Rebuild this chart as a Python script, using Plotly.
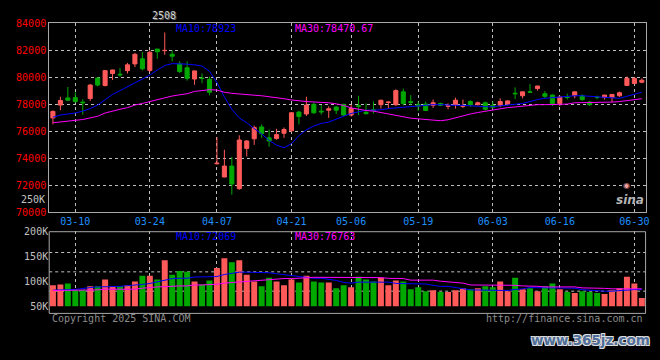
import plotly.graph_objects as go

W, H = 660, 360

dates = [
    "03-05", "03-06", "03-07", "03-10", "03-11", "03-12", "03-13", "03-14", "03-17", "03-18",
    "03-19", "03-20", "03-21", "03-24", "03-25", "03-26", "03-27", "03-28", "03-31", "04-01",
    "04-02", "04-03", "04-07", "04-08", "04-09", "04-10", "04-11", "04-14", "04-15", "04-16",
    "04-17", "04-18", "04-21", "04-22", "04-23", "04-24", "04-25", "04-28", "04-29", "04-30",
    "05-06", "05-07", "05-08", "05-09", "05-12", "05-13", "05-14", "05-15", "05-16", "05-19",
    "05-20", "05-21", "05-22", "05-23", "05-26", "05-27", "05-28", "05-29", "05-30", "06-03",
    "06-04", "06-05", "06-06", "06-09", "06-10", "06-11", "06-12", "06-13", "06-16", "06-17",
    "06-18", "06-19", "06-20", "06-23", "06-24", "06-25", "06-26", "06-27", "06-30", "07-01",
]

open_ = [
    77000, 77950, 78480, 78500, 78170, 78430, 79950, 79400, 80290, 80240,
    80500, 81000, 81380, 80520, 82100, 81980, 81710, 81000, 80710, 79880,
    79950, 79860, 73600, 72620, 73430, 71760, 74740, 75450, 76330, 75520,
    75480, 75860, 76050, 77430, 77290, 78000, 77500, 77570, 77810, 78000,
    77210, 77900, 77410, 77600, 77980, 78140, 77980, 78930, 78200, 77980,
    78020, 77930, 78070, 77860, 77980, 77860, 78210, 77980, 78120, 77930,
    77930, 78020, 78830, 78640, 78930, 79170, 78790, 78690, 78070, 78550,
    78640, 78640, 78170, 78550, 78500, 78500, 78640, 79400, 79550, 79640,
]
high = [
    77550, 78570, 79290, 78900, 78380, 79500, 80000, 80550, 80570, 80710,
    81070, 81810, 81880, 82000, 82100, 83330, 82000, 81190, 81190, 80500,
    80290, 80050, 75570, 74640, 74100, 75710, 75360, 76430, 76520, 76140,
    76190, 76290, 77430, 77520, 78570, 78140, 77950, 77860, 77860, 78050,
    77980, 78640, 78070, 78210, 78330, 78210, 79120, 79170, 78690, 78210,
    78210, 78360, 78120, 78070, 78500, 78360, 78310, 78210, 78210, 78210,
    78450, 78290, 79260, 78950, 79500, 79380, 78980, 78740, 78640, 78790,
    78950, 78740, 78260, 78640, 78710, 78760, 78950, 80070, 80020, 79930,
]
low = [
    76520, 77570, 78250, 78140, 77240, 78260, 79330, 79330, 79810, 80050,
    80290, 80760, 80520, 80400, 81380, 81670, 81190, 80330, 79760, 79450,
    79570, 78670, 73550, 72600, 71310, 71670, 74140, 75000, 75520, 74860,
    75380, 75520, 75950, 76520, 77140, 77290, 77240, 77000, 77290, 77150,
    77100, 77210, 77260, 77330, 77690, 77690, 77880, 77930, 77930, 77520,
    77500, 77740, 77880, 77640, 77690, 77740, 77830, 77930, 77550, 77690,
    77790, 77930, 78400, 78450, 78880, 79020, 78430, 77880, 77880, 78360,
    78450, 78260, 77880, 78380, 78360, 78170, 78550, 79360, 79500, 79570,
]
close = [
    77480, 78290, 78310, 78210, 78120, 79430, 79430, 80500, 80550, 80190,
    80930, 81710, 80640, 81860, 81900, 82000, 81570, 80430, 79930, 80480,
    79920, 78900, 73640, 73430, 72100, 75360, 75290, 76290, 75830, 75290,
    75760, 76140, 77380, 77100, 77950, 77380, 77450, 77670, 77570, 77210,
    77690, 77860, 77310, 77570, 78310, 78170, 79020, 78070, 78150, 77880,
    77550, 78120, 77930, 77880, 78310, 77880, 77980, 78120, 77640, 77790,
    78210, 78260, 78790, 78930, 78900, 79360, 78600, 78070, 78550, 78520,
    78930, 78360, 77980, 78520, 78690, 78740, 78860, 79930, 79930, 79790,
]
ma10 = [
    77050, 77210, 77290, 77360, 77500, 77690, 77950, 78360, 78740, 79020,
    79310, 79600, 79830, 80170, 80550, 80880, 81020, 81020, 80980, 80930,
    80840, 80450, 79620, 78550, 77640, 77000, 76640, 76210, 75810, 75330,
    74980, 74790, 75090, 75690, 76120, 76400, 76590, 76690, 76880, 77120,
    77330, 77450, 77570, 77570, 77600, 77690, 77740, 77830, 77880, 77930,
    77930, 77980, 77980, 77930, 77930, 77930, 77880, 77880, 77830, 77830,
    77880, 77980, 78020, 78070, 78210, 78360, 78450, 78500, 78550, 78640,
    78640, 78640, 78600, 78550, 78500, 78450, 78450, 78600, 78740, 78900,
]
ma30 = [
    76640, 76690, 76740, 76790, 76880, 77000, 77120, 77360, 77520, 77640,
    77760, 77950, 78070, 78210, 78360, 78500, 78620, 78710, 78790, 78960,
    79040, 79090, 79060, 78900, 78820, 78760, 78720, 78680, 78640, 78580,
    78500, 78420, 78330, 78260, 78210, 78180, 78160, 78120, 78040, 77920,
    77740, 77640, 77550, 77500, 77400, 77260, 77170, 77070, 76980, 76930,
    76880, 76830, 76790, 76860, 77020, 77170, 77290, 77400, 77500, 77570,
    77690, 77760, 77810, 77880, 77930, 77980, 77980, 78000, 78020, 78020,
    78120, 78120, 78170, 78170, 78170, 78170, 78210, 78280, 78360, 78420,
]
volume = [
    91900, 93800, 95800, 82900, 82900, 90000, 90000, 103500, 90000, 90000,
    91900, 99600, 111200, 111200, 103500, 142100, 113100, 120800, 118900, 99600,
    93800, 101500, 126600, 145900, 138200, 142100, 113100, 99600, 90000, 107300,
    99600, 91900, 103500, 97700, 111200, 99600, 97700, 97700, 86100, 91900,
    88000, 109300, 103500, 99600, 107300, 91900, 101500, 99600, 84200, 88000,
    80300, 82200, 78400, 78400, 82200, 86100, 84200, 86100, 90000, 88000,
    99600, 80300, 107300, 84200, 86100, 80300, 90000, 95800, 84200, 78400,
    76400, 80300, 78400, 76400, 74500, 82200, 86100, 109300, 95800, 66800,
]
vol_ma10 = [
    82200, 82200, 83300, 83800, 86200, 87500, 88800, 88800, 89400, 89900,
    91300, 91900, 93900, 95600, 99000, 102900, 105400, 106100, 106100, 108600,
    108600, 108600, 109500, 113600, 116700, 118300, 118300, 118300, 117700, 117100,
    115100, 113100, 111000, 108600, 106900, 106100, 106100, 104700, 101800, 97700,
    96400, 98300, 98300, 98300, 98300, 98300, 95800, 95800, 95800, 95800,
    94600, 92000, 89900, 89900, 86900, 85300, 82900, 82900, 82200, 81600,
    81600, 81600, 83800, 84800, 87500, 87500, 87500, 86900, 86200, 86200,
    86200, 83300, 82200, 80300, 80300, 80300, 81600, 81600, 83500, 83500,
]
vol_ma30 = [
    81600, 81600, 81600, 82900, 82900, 82900, 82900, 84200, 84200, 84200,
    84200, 84200, 86200, 87900, 88800, 89400, 90800, 90800, 90800, 92700,
    92700, 92700, 94100, 96400, 97700, 99000, 99000, 100200, 102300, 103300,
    105500, 105500, 105500, 105500, 106900, 108000, 108000, 108000, 108000, 108000,
    107400, 107400, 107400, 107400, 107400, 105900, 105500, 105500, 102300, 102300,
    102300, 102300, 100200, 99000, 99000, 96400, 92700, 92700, 92700, 92700,
    92700, 92700, 92000, 90800, 90800, 90000, 88800, 88800, 88800, 88800,
    88800, 86900, 86900, 86900, 85900, 85000, 85000, 85000, 85000, 85000,
]
price_ticks = [70000, 72000, 74000, 76000, 78000, 80000, 82000, 84000]
vol_ticks = [50000, 100000, 150000, 200000]
vol_tick_text = ["50K", "100K", "150K", "200K"]
date_ticks = ["03-10", "03-24", "04-07", "04-21", "05-06", "05-19", "06-03", "06-16", "06-30"]

RED = "#FF5A5A"
GREEN = "#00A800"
GRID = "#BEBEBE"
FRAME = "#A8A8A8"
FONT = "DejaVu Sans Mono"


def py(p):
    return (H - p) / H


def px(p):
    return p / W


X0, X1 = 49.5, 649.5

fig = go.Figure()
fig.add_trace(go.Candlestick(
    x=dates, open=open_, high=high, low=low, close=close,
    increasing=dict(line=dict(color=RED, width=1), fillcolor=RED),
    decreasing=dict(line=dict(color=GREEN, width=1), fillcolor=GREEN),
    whiskerwidth=0, xaxis="x", yaxis="y", hoverinfo="skip",
))
fig.add_trace(go.Scatter(x=dates, y=ma10, mode="lines", line=dict(color="#0000FF", width=1),
                         xaxis="x", yaxis="y", hoverinfo="skip"))
fig.add_trace(go.Scatter(x=dates, y=ma30, mode="lines", line=dict(color="#FF00FF", width=1),
                         xaxis="x", yaxis="y", hoverinfo="skip"))

bar_colors = [RED if c >= o else GREEN for o, c in zip(open_, close)]
fig.add_trace(go.Bar(x=dates, y=volume, marker=dict(color=bar_colors, line=dict(width=0)),
                     width=0.8, xaxis="x2", yaxis="y2", hoverinfo="skip"))
fig.add_trace(go.Scatter(x=dates, y=vol_ma10, mode="lines", line=dict(color="#0000FF", width=1),
                         xaxis="x2", yaxis="y2", hoverinfo="skip"))
fig.add_trace(go.Scatter(x=dates, y=vol_ma30, mode="lines", line=dict(color="#FF00FF", width=1),
                         xaxis="x2", yaxis="y2", hoverinfo="skip"))

common_x = dict(
    type="category", range=[-0.5, len(dates) - 0.5], domain=[px(X0), px(X1)],
    tickmode="array", tickvals=date_ticks, ticktext=date_ticks,
    showgrid=True, gridcolor=GRID, griddash="dot", gridwidth=1,
    ticks="", zeroline=False, fixedrange=True,
)

fig.update_layout(
    width=W, height=H,
    margin=dict(l=0, r=0, t=0, b=0),
    paper_bgcolor="#000000", plot_bgcolor="#000000",
    showlegend=False, hovermode=False, boxgap=0.22, bargap=0.2,
    font=dict(family=FONT, size=10, color="#C0C0C0"),
    xaxis=dict(**common_x, anchor="y", rangeslider=dict(visible=False),
               showline=True, linecolor=FRAME, linewidth=1, mirror=True,
               tickfont=dict(family=FONT, size=10, color="#1E90FF")),
    yaxis=dict(domain=[py(213.5), py(18)], range=[70000, 84000], anchor="x",
               tickmode="array", tickvals=price_ticks, tickformat="d", ticks="",
               showgrid=True, gridcolor=GRID, griddash="dot", gridwidth=1,
               showline=True, linecolor=FRAME, linewidth=1, mirror=True,
               zeroline=False, fixedrange=True,
               tickfont=dict(family=FONT, size=10, color="#FF0000")),
    xaxis2=dict(**common_x, anchor="y2", matches="x", showticklabels=False, showline=False),
    yaxis2=dict(domain=[py(310.7), py(233)], range=[50000, 200000], anchor="x2",
                tickmode="array", tickvals=vol_ticks, ticktext=vol_tick_text, ticks="",
                showgrid=False, showline=False, zeroline=False, fixedrange=True,
                tickfont=dict(family=FONT, size=10, color="#C0C0C0")),
)

# volume panel frame and horizontal grid
shapes = [dict(type="rect", xref="paper", yref="paper", x0=px(X0), x1=px(X1),
               y0=py(318), y1=py(233.5), line=dict(color=FRAME, width=1), layer="above")]
for gy in (255, 275, 295):
    shapes.append(dict(type="line", xref="paper", yref="paper", x0=px(X0), x1=px(X1),
                       y0=py(gy), y1=py(gy), line=dict(color=GRID, width=1, dash="dot"),
                       layer="below"))
fig.update_layout(shapes=shapes)

ann = []


def text(x, y, s, color, xanchor="left", size=10, **font_kw):
    ann.append(dict(x=px(x), y=py(y), xref="paper", yref="paper", text=s, showarrow=False,
                    xanchor=xanchor, yanchor="middle",
                    font=dict(family=font_kw.pop("family", FONT), size=size, color=color, **font_kw)))


text(165, 10, "2508", "#D0D0D0", xanchor="center",
     shadow="1px 1px 0 #606060")
text(175, 23, "MA10:78923", "#0000FF")
text(295, 23, "MA30:78470.67", "#FF00FF")
text(175, 238, "MA10:72069", "#0000FF")
text(295, 238, "MA30:76763", "#FF00FF")
text(47, 200, "250K", "#C0C0C0", xanchor="right")
text(50, 323, "Copyright 2025 SINA.COM", "#8C8C8C")
text(649, 323, "http://finance.sina.com.cn", "#8C8C8C", xanchor="right")
text(630, 186, "◉", "#F0A0A0", xanchor="center", size=8, family="DejaVu Sans")
text(634, 201, "sina", "#B4B4B4", xanchor="center", size=12, family="DejaVu Sans",
     style="italic", weight="bold")
text(594, 346, "www.365jz.com", "#4F6E99", xanchor="center", size=13.5, family="DejaVu Sans",
     weight="bold", shadow="1px 1px 0 #DDDDDD, -1px -1px 0 #DDDDDD, 1px -1px 0 #DDDDDD, -1px 1px 0 #DDDDDD")
fig.update_layout(annotations=ann)

fig.write_html(
    "out.html",
    config={"displayModeBar": False, "staticPlot": True},
    post_script="document.body.style.margin='0';document.body.style.overflow='hidden';"
                "document.body.style.background='#000';",
)
